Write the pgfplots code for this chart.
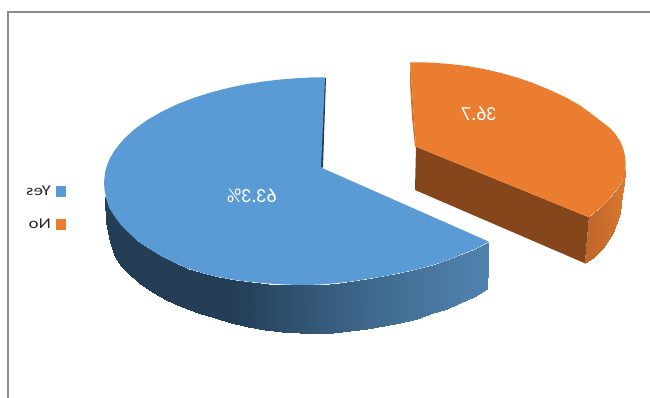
\documentclass[border=0pt]{standalone}
\usepackage{fontspec}
\setmainfont{Carlito}
\usepackage{graphicx}
\usepackage{pgfplots}
\pgfplotsset{compat=1.18}
\definecolor{pieblue}{HTML}{5B9BD5}
\definecolor{pieorange}{HTML}{EB7D30}
\definecolor{piebrown}{HTML}{86461B}
\definecolor{pieedge}{HTML}{C96F2A}
\definecolor{piedark}{HTML}{243E56}
\definecolor{framegray}{HTML}{8C8C8C}
\begin{document}
\begin{tikzpicture}
\path[use as bounding box] (0,0) rectangle (650bp,398bp);
\begin{axis}[
  at={(0,0)},anchor=south west,
  scale only axis, width=650bp, height=398bp,
  xmin=0, xmax=650, ymin=0, ymax=398, y dir=reverse,
  hide axis, clip=true,
  point meta min=0, point meta max=1,
  legend plot pos=right,
  legend cell align=right,
  legend style={at={(axis cs:66,184)},anchor=north east,draw=none,fill=none,
    font=\fontsize{15bp}{18bp}\selectfont,text=black!85,
    row sep=17.5bp,inner sep=0pt,nodes={inner sep=2pt}},
  legend image code/.code={\path (-3bp,0bp); \fill[#1] (0bp,-5.5bp) rectangle (10bp,5.5bp);},
]
% frame
\addplot[forget plot,framegray,line width=1.3bp] coordinates {(8,398)(8,12)(650,12)};
% blue rim
\addplot[forget plot,surf,shader=interp,mesh/rows=2,point meta=explicit,
  colormap={bl}{rgb255=(36,62,86) rgb255=(79,130,174)}] table[x=x,y=y,meta=c] {
x y c
105 197 0
107 203 0
110 208 0
115 217 0
121 225 0
128 232 0
137 240.5 0
148 248 0
161 256 0
175 263 0
188 268.5 0
202 273 0
218 277 0
235 280 0
251 282 .08
268 283.5 .16
288 284.7 .26
308 285 .35
320 284.5 .41
340 283 .5
367 279 .6
384 276.3 .67
400 273 .73
417 269.3 .79
433 265 .84
447 260.3 .89
460 255 .93
475 249 .97
489 241.7 1
105.5 200 0
106.5 222 0
110 242 0
115 257 0
121 265.5 0
128 273 0
139 282.8 0
152 292 0
166 300 0
182 307 0
198 313 0
215 318 0
231 323 0
248 327 .07
265 330 .14
282 332 .23
300 333 .31
317 333.3 .39
333 332.5 .46
350 331 .53
367 329 .6
384 326.3 .67
400 323 .73
417 318.5 .79
433 313 .84
447 308.5 .89
460 303 .93
474 296.5 .97
487 289 1
};
% dark sliver behind the blue slice
\addplot[forget plot,fill=piedark,draw=none] coordinates {(326,78)(324,78)(320.5,167.5)(323,167.5)} -- cycle;
% orange cut face
\addplot[forget plot,fill=piebrown,draw=none] coordinates {(416,146.7)(589,217.3)(585,263.3)(415,190)} -- cycle;
% orange rim
\addplot[forget plot,surf,shader=interp,mesh/rows=2,point meta=explicit,
  colormap={or}{rgb255=(192,103,42) rgb255=(222,123,48)}] table[x=x,y=y,meta=c] {
x y c
589 217.3 0
594 213 .1
600 208 .25
610 198 .5
616 190.5 .7
620 185 .85
623 179 .93
625.5 170 1
585 263.3 0
593 258 .1
603 248 .25
613 233 .5
620 213 .7
622.5 195 .85
624 183 .93
625.5 171 1
};
% orange left sliver
\addplot[forget plot,fill=pieedge,draw=none] coordinates {(410,62.3)(410,83)(412,117)(415,146.7)(416,146.7)(412.7,100)} -- cycle;
% blue top
\addplot[fill=pieblue,draw=none] coordinates {
(325,77.3)(310,77.5)(295,78.3)(278,79.7)(262,81.7)(245,84.4)(228,88)(211,92.4)(195,97.4)(178,103.9)(162,111.5)(148,119.5)(135,128.8)(124,138.8)(115,149.7)(110,158.1)(107,165.2)(105,172.5)(104,182.5)(104.6,190)(106,197)(109,207.5)(115,217)(121,225)(128,232)(137,240.5)(148,248)(161,256)(175,263)(188,268.5)(202,273)(218,277)(235,280)(251,282)(268,283.5)(288,284.7)(308,285)(320,284.5)(333,283.5)(350,281.7)(367,279)(384,276.3)(400,273)(417,269.3)(433,265)(447,260.3)(460,255)(475,249)(489,241.7)(321,167.5)
} -- cycle;
\addlegendentry{\scalebox{-1.25}[1]{Yes}}
% orange top
\addplot[fill=pieorange,draw=none] coordinates {
(410,62.3)(421,62.3)(433,62.7)(450,64)(467,66)(484,69)(500,72.7)(517,77.5)(533,83)(550,90)(567,98)(581,106)(593,115)(604,123.5)(610,128)(615,133.5)(620,141)(623,148)(625,156)(625.7,164)(625,173)(623,179)(620,185)(616,190.5)(610,198)(605,203)(600,208)(594,213)(589,217.3)(416,146.7)(412.7,100)
} -- cycle;
\addlegendentry{\scalebox{-1.25}[1]{No}}
\node[text=white,font=\fontsize{20bp}{24bp}\selectfont] at (axis cs:252,196) {\reflectbox{63.3\%}};
\node[text=white,font=\fontsize{20bp}{24bp}\selectfont] at (axis cs:479,114) {\reflectbox{36.7}};
\end{axis}
\end{tikzpicture}
\end{document}
